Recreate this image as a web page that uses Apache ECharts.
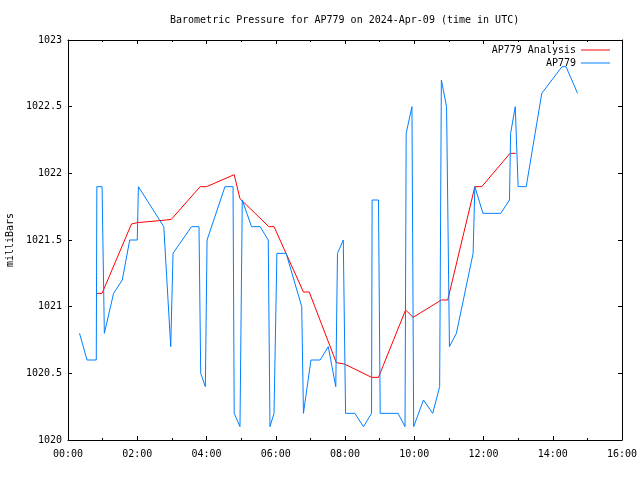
<!DOCTYPE html>
<html>
<head>
<meta charset="utf-8">
<script src="https://cdn.jsdelivr.net/npm/echarts@6/dist/echarts.min.js"></script>
<style>html,body{margin:0;padding:0;background:#fff;}#c{width:640px;height:480px;}</style>
</head>
<body>
<div id="c"></div>
<script>
// Observed station values (time UTC, mbar)
var obsTimes = ["0:20","0:33","0:49","0:50","0:59","1:03","1:19","1:34","1:47","2:00","2:02","2:46","2:58","3:02","3:34","3:47","3:50","3:58","4:01","4:32","4:46","4:48","4:58","5:02","5:18","5:33","5:47","5:50","5:57","6:02","6:18","6:45","6:48","7:01","7:17","7:31","7:44","7:47","7:57","8:01","8:17","8:32","8:46","8:47","8:58","9:01","9:32","9:44","9:46","9:56","9:59","10:16","10:32","10:44","10:47","10:56","11:01","11:13","11:42","11:45","11:59","12:30","12:45","12:47","12:55","13:00","13:14","13:41","14:16","14:23","14:43"];
var obsValues = [1020.8,1020.6,1020.6,1021.9,1021.9,1020.8,1021.1,1021.2,1021.5,1021.5,1021.9,1021.6,1020.7,1021.4,1021.6,1021.6,1020.5,1020.4,1021.5,1021.9,1021.9,1020.2,1020.1,1021.8,1021.6,1021.6,1021.5,1020.1,1020.2,1021.4,1021.4,1021.0,1020.2,1020.6,1020.6,1020.7,1020.4,1021.4,1021.5,1020.2,1020.2,1020.1,1020.2,1021.8,1021.8,1020.2,1020.2,1020.1,1022.3,1022.5,1020.1,1020.3,1020.2,1020.4,1022.7,1022.5,1020.7,1020.8,1021.4,1021.9,1021.7,1021.7,1021.8,1022.3,1022.5,1021.9,1021.9,1022.6,1022.8,1022.8,1022.6];
// Analysis values
var anaTimes = ["0:49","0:59","1:50","2:00","2:50","2:59","3:49","4:00","4:48","4:58","5:48","5:57","6:48","6:58","7:45","7:59","8:46","8:58","9:45","9:58","10:47","10:58","11:45","11:57","12:46","12:56"];
var anaValues = [1021.1,1021.1,1021.62,1021.63,1021.65,1021.655,1021.9,1021.9,1021.99,1021.81,1021.6,1021.6,1021.11,1021.11,1020.58,1020.57,1020.47,1020.47,1020.975,1020.92,1021.05,1021.05,1021.9,1021.9,1022.15,1022.15];
var titleText = "Barometric Pressure for AP779 on 2024-Apr-09 (time in UTC)";
var yName = "milliBars";
var nameAna = "AP779 Analysis";
var nameObs = "AP779";

function toH(s){var p=s.split(":");return +p[0]+(+p[1])/60;}
function pairs(ts,vs){return ts.map(function(t,i){return [toH(t),vs[i]];});}
function fmtH(v){var h=Math.round(v);return (h<10?"0":"")+h+":00";}

var font = "DejaVu Sans Mono";
var chart = echarts.init(document.getElementById('c'), null, {renderer:'canvas'});
var tickCommon = {show:true, inside:true, length:4, lineStyle:{color:'#000', width:1}};
var minorCommon = {show:true, splitNumber:2, length:2, lineStyle:{color:'#000', width:1}};
chart.setOption({
  animation:false,
  backgroundColor:'#fff',
  title:{text:titleText, left:165, top:10, textStyle:{fontFamily:font, fontSize:10, fontWeight:'normal', color:'#000'}},
  legend:{orient:'vertical', right:25, top:40, align:'right', itemWidth:29, itemHeight:1, itemGap:3, icon:'rect',
    textStyle:{fontFamily:font, fontSize:10, color:'#000'}, data:[nameAna, nameObs]},
  grid:{left:68, right:18, top:40, bottom:40, show:false, containLabel:false, outerBoundsMode:'none'},
  xAxis:[{type:'value', min:0, max:16, interval:2, position:'bottom',
     axisLine:{show:true, onZero:false, lineStyle:{color:'#000', width:1}},
     axisTick:tickCommon, minorTick:minorCommon, splitLine:{show:false},
     axisLabel:{fontFamily:font, fontSize:10, color:'#000', margin:9, formatter:function(v){return fmtH(v);}}},
    {type:'value', min:0, max:16, interval:2, position:'top',
     axisLine:{show:true, onZero:false, lineStyle:{color:'#000', width:1}},
     axisTick:tickCommon, minorTick:minorCommon, splitLine:{show:false}, axisLabel:{show:false}}],
  yAxis:[{type:'value', min:1020, max:1023, interval:0.5, position:'left',
     name:yName, nameLocation:'middle', nameGap:51, nameRotate:90,
     nameTextStyle:{fontFamily:font, fontSize:10, color:'#000'},
     axisLine:{show:true, onZero:false, lineStyle:{color:'#000', width:1}},
     axisTick:tickCommon, splitLine:{show:false},
     axisLabel:{fontFamily:font, fontSize:10, color:'#000', margin:6, formatter:function(v){return String(+v.toFixed(1));}}},
    {type:'value', min:1020, max:1023, interval:0.5, position:'right',
     axisLine:{show:true, onZero:false, lineStyle:{color:'#000', width:1}},
     axisTick:tickCommon, splitLine:{show:false}, axisLabel:{show:false}}],
  series:[
    {name:nameAna, type:'line', data:pairs(anaTimes, anaValues), symbol:'none', color:'#ff0000', lineStyle:{width:1, color:'#ff0000'}},
    {name:nameObs, type:'line', data:pairs(obsTimes, obsValues), symbol:'none', color:'#0080ff', lineStyle:{width:1, color:'#0080ff'}}
  ]
});
</script>
</body>
</html>
